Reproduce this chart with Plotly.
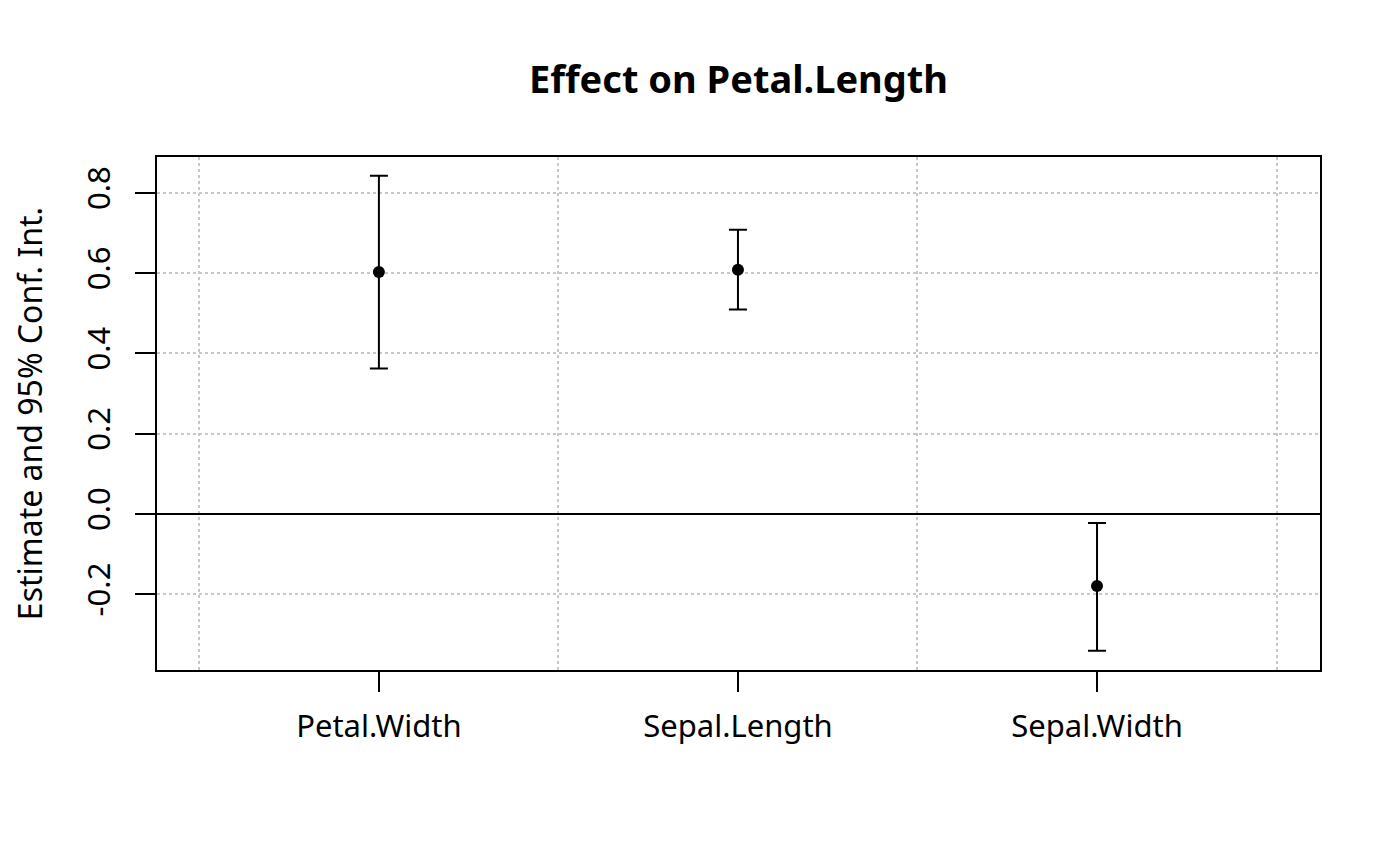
import plotly.graph_objects as go

# ── data ────────────────────────────────────────────────────────
terms     = ["Petal.Width", "Sepal.Length", "Sepal.Width"]
estimates = [0.6025, 0.608, -0.180]
lower     = [0.362, 0.509, -0.341]
upper     = [0.842, 0.708, -0.0225]
y_ticks   = [-0.2, 0.0, 0.2, 0.4, 0.6, 0.8]

xpos = list(range(1, len(terms) + 1))
err_plus  = [u - e for u, e in zip(upper, estimates)]
err_minus = [e - l for e, l in zip(estimates, lower)]

FONT = "Noto Sans"

fig = go.Figure()
fig.add_trace(go.Scatter(
    x=xpos, y=estimates,
    mode="markers",
    marker=dict(color="black", size=12),
    error_y=dict(type="data", symmetric=False,
                 array=err_plus, arrayminus=err_minus,
                 color="black", thickness=2, width=9),
    showlegend=False,
))

# page body adds an 8px offset, margins compensate for it
fig.update_layout(
    width=1400, height=866,
    margin=dict(l=149, r=88, t=149, b=204),
    paper_bgcolor="white", plot_bgcolor="white",
    font=dict(family=FONT, size=31, color="black"),
    title=dict(text="<b>Effect on Petal.Length</b>", x=0.5, xref="paper",
               y=1 - 72 / 866, yanchor="middle",
               font=dict(family=FONT, size=38, color="black")),
)

fig.update_xaxes(
    range=[0.382, 3.621],
    tickmode="array", tickvals=xpos, ticktext=terms,
    ticks="outside", ticklen=20, tickwidth=2, tickcolor="black",
    ticklabelstandoff=8, automargin=False,
    showgrid=False, zeroline=False,
    showline=True, mirror=True, linecolor="black", linewidth=2,
    minor=dict(tick0=0.5, dtick=1, showgrid=True, gridcolor="#c8c8c8",
               griddash="dot", gridwidth=2, ticks=""),
)
fig.update_yaxes(
    range=[-0.389, 0.889],
    tickmode="array", tickvals=y_ticks, ticktext=[f"{v:.1f}" for v in y_ticks],
    tickangle=-90,
    ticks="outside", ticklen=20, tickwidth=2, tickcolor="black",
    ticklabelstandoff=13, automargin=False,
    showgrid=True, gridcolor="#c8c8c8", griddash="dot", gridwidth=2,
    zeroline=True, zerolinecolor="black", zerolinewidth=2,
    showline=True, mirror=True, linecolor="black", linewidth=2,
    title=dict(text="Estimate and 95% Conf. Int.", standoff=39,
               font=dict(size=32)),
)

fig.write_html("out.html")
